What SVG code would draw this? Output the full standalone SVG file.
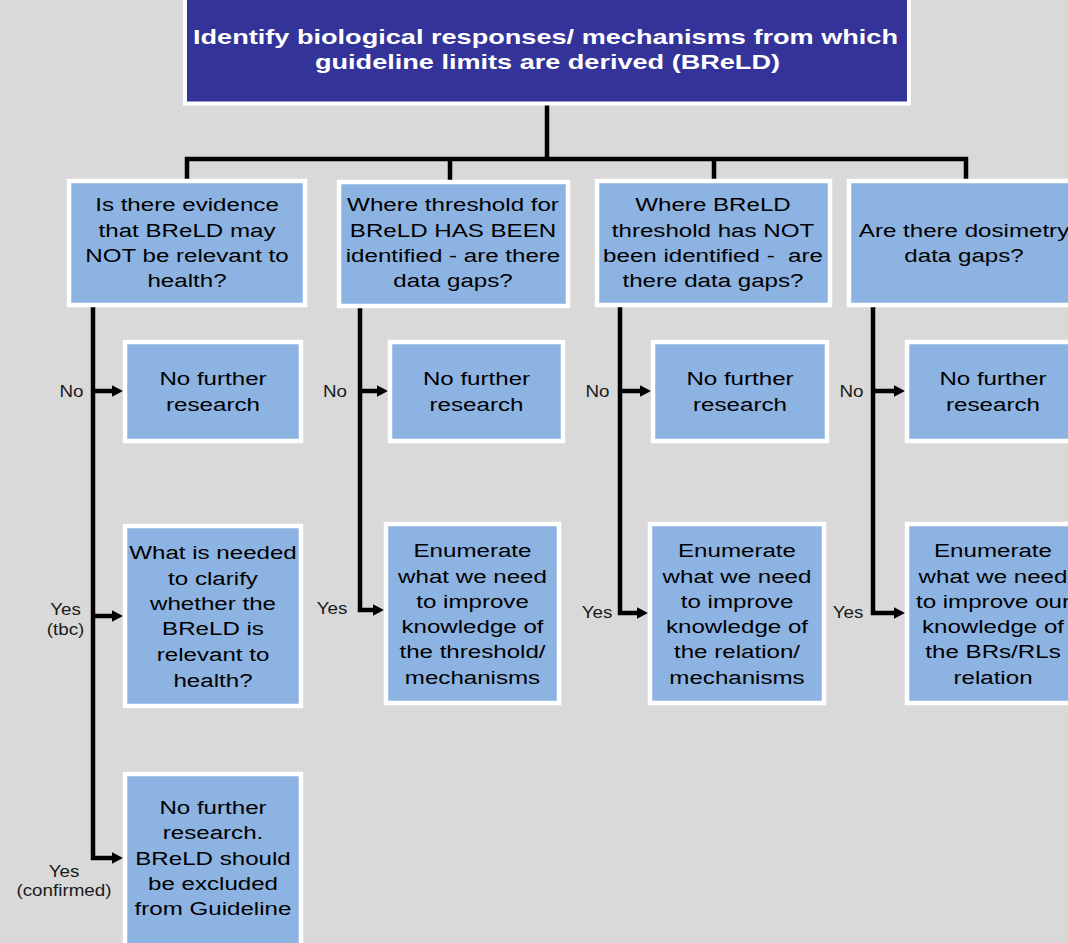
<svg xmlns="http://www.w3.org/2000/svg" width="1068" height="943" viewBox="0 0 1068 943">
<style>
.bg{fill:#d9d9d9}
.top{fill:#333399;stroke:#ffffff;stroke-width:4}
.box{fill:#8db3e2;stroke:#ffffff;stroke-width:4.5}
.tt{font-family:"Liberation Sans",Arial,sans-serif;font-weight:bold;font-size:20.5px;fill:#ffffff}
.t{font-family:"Liberation Sans",Arial,sans-serif;font-size:19px;fill:#000000;text-anchor:middle}
.lb{font-family:"Liberation Sans",Arial,sans-serif;font-size:16.5px;fill:#1a1a1a;text-anchor:middle}
.c{fill:none;stroke:#000000;stroke-width:4.5;stroke-linejoin:miter;stroke-linecap:butt}
.ca{fill:none;stroke:#000000;stroke-width:4.5;stroke-linejoin:miter;stroke-linecap:butt;marker-end:url(#ah)}
</style>
<defs>
<marker id="ah" markerUnits="userSpaceOnUse" markerWidth="14" markerHeight="14" refX="5" refY="6" orient="auto">
<path d="M0,0 L11.5,6 L0,12 Z" fill="#000000"/>
</marker>
</defs>
<rect class="bg" x="0" y="0" width="1068" height="943"/>

<g id="connectors">
<path class="c" d="M547,105 V159"/>
<path class="c" d="M187,181 V159 H966 V181"/>
<path class="c" d="M450,159 V181"/>
<path class="c" d="M714,159 V181"/>
<path class="ca" d="M93,307 V858 H116.5"/>
<path class="ca" d="M93,391 H116.5"/>
<path class="ca" d="M93,616 H116.5"/>
<path class="ca" d="M360,308 V610 H377.5"/>
<path class="ca" d="M360,391 H381.5"/>
<path class="ca" d="M620,307 V613 H641.5"/>
<path class="ca" d="M620,391 H644.5"/>
<path class="ca" d="M873,307 V613 H898.5"/>
<path class="ca" d="M873,391 H898.5"/>
</g>

<g id="top">
<rect class="top" x="185" y="-10" width="724" height="113.5"/>
<text class="tt" x="193" y="44" textLength="705" lengthAdjust="spacingAndGlyphs">Identify biological responses/ mechanisms from which</text>
<text class="tt" x="315" y="69" textLength="465" lengthAdjust="spacingAndGlyphs">guideline limits are derived (BReLD)</text>
</g>

<g id="q1">
<rect class="box" x="69" y="181" width="236" height="124"/>
<text class="t" transform="translate(187 0) scale(1.27 1)"><tspan x="0" y="211.5">Is there evidence</tspan><tspan x="0" y="237">that BReLD may</tspan><tspan x="0" y="262">NOT be relevant to</tspan><tspan x="0" y="287">health?</tspan></text>
</g>
<g id="q2">
<rect class="box" x="339" y="182" width="229" height="124"/>
<text class="t" transform="translate(453 0) scale(1.27 1)"><tspan x="0" y="211.5">Where threshold for</tspan><tspan x="0" y="237">BReLD HAS BEEN</tspan><tspan x="0" y="262">identified - are there</tspan><tspan x="0" y="287">data gaps?</tspan></text>
</g>
<g id="q3">
<rect class="box" x="597" y="181" width="233" height="124"/>
<text class="t" transform="translate(713 0) scale(1.27 1)"><tspan x="0" y="211.5">Where BReLD</tspan><tspan x="0" y="237">threshold has NOT</tspan><tspan x="0" y="262">been identified - &#160;are</tspan><tspan x="0" y="287">there data gaps?</tspan></text>
</g>
<g id="q4">
<rect class="box" x="849" y="181" width="240" height="124"/>
<text class="t" transform="translate(964 0) scale(1.27 1)"><tspan x="0" y="237">Are there dosimetry</tspan><tspan x="0" y="262">data gaps?</tspan></text>
</g>

<g id="n1">
<rect class="box" x="125" y="342" width="176" height="99"/>
<text class="t" transform="translate(213 0) scale(1.27 1)"><tspan x="0" y="385.5">No further</tspan><tspan x="0" y="411">research</tspan></text>
</g>
<g id="n2">
<rect class="box" x="390" y="342" width="173" height="99"/>
<text class="t" transform="translate(476.5 0) scale(1.27 1)"><tspan x="0" y="385.5">No further</tspan><tspan x="0" y="411">research</tspan></text>
</g>
<g id="n3">
<rect class="box" x="653" y="342" width="174" height="99"/>
<text class="t" transform="translate(740 0) scale(1.27 1)"><tspan x="0" y="385.5">No further</tspan><tspan x="0" y="411">research</tspan></text>
</g>
<g id="n4">
<rect class="box" x="907" y="342" width="200" height="99"/>
<text class="t" transform="translate(993 0) scale(1.27 1)"><tspan x="0" y="385.5">No further</tspan><tspan x="0" y="411">research</tspan></text>
</g>

<g id="r1">
<rect class="box" x="125" y="526" width="176" height="180"/>
<text class="t" transform="translate(213 0) scale(1.27 1)"><tspan x="0" y="559">What is needed</tspan><tspan x="0" y="585">to clarify</tspan><tspan x="0" y="610">whether the</tspan><tspan x="0" y="635">BReLD is</tspan><tspan x="0" y="661">relevant to</tspan><tspan x="0" y="687">health?</tspan></text>
</g>
<g id="r2">
<rect class="box" x="386" y="524" width="173" height="179"/>
<text class="t" transform="translate(472.5 0) scale(1.27 1)"><tspan x="0" y="557">Enumerate</tspan><tspan x="0" y="583">what we need</tspan><tspan x="0" y="608">to improve</tspan><tspan x="0" y="633">knowledge of</tspan><tspan x="0" y="658">the threshold/</tspan><tspan x="0" y="684">mechanisms</tspan></text>
</g>
<g id="r3">
<rect class="box" x="650" y="524" width="174" height="179"/>
<text class="t" transform="translate(737 0) scale(1.27 1)"><tspan x="0" y="557">Enumerate</tspan><tspan x="0" y="583">what we need</tspan><tspan x="0" y="608">to improve</tspan><tspan x="0" y="633">knowledge of</tspan><tspan x="0" y="658">the relation/</tspan><tspan x="0" y="684">mechanisms</tspan></text>
</g>
<g id="r4">
<rect class="box" x="907" y="524" width="200" height="179"/>
<text class="t" transform="translate(993 0) scale(1.27 1)"><tspan x="0" y="557">Enumerate</tspan><tspan x="0" y="583">what we need</tspan><tspan x="0" y="608">to improve our</tspan><tspan x="0" y="633">knowledge of</tspan><tspan x="0" y="658">the BRs/RLs</tspan><tspan x="0" y="684">relation</tspan></text>
</g>

<g id="f1">
<rect class="box" x="125" y="774" width="176" height="200"/>
<text class="t" transform="translate(213 0) scale(1.27 1)"><tspan x="0" y="814">No further</tspan><tspan x="0" y="839">research.</tspan><tspan x="0" y="865">BReLD should</tspan><tspan x="0" y="890">be excluded</tspan><tspan x="0" y="915">from Guideline</tspan></text>
</g>

<g id="labels">
<text class="lb" transform="translate(71.5 0) scale(1.14 1)" x="0" y="397">No</text>
<text class="lb" transform="translate(335 0) scale(1.14 1)" x="0" y="397">No</text>
<text class="lb" transform="translate(597.5 0) scale(1.14 1)" x="0" y="397">No</text>
<text class="lb" transform="translate(851.5 0) scale(1.14 1)" x="0" y="397">No</text>
<text class="lb" transform="translate(65.5 0) scale(1.14 1)"><tspan x="0" y="615">Yes</tspan><tspan x="0" y="635">(tbc)</tspan></text>
<text class="lb" transform="translate(332 0) scale(1.14 1)" x="0" y="614">Yes</text>
<text class="lb" transform="translate(597 0) scale(1.14 1)" x="0" y="618">Yes</text>
<text class="lb" transform="translate(848 0) scale(1.14 1)" x="0" y="618">Yes</text>
<text class="lb" transform="translate(64 0) scale(1.14 1)"><tspan x="0" y="877">Yes</tspan><tspan x="0" y="896">(confirmed)</tspan></text>
</g>
</svg>
